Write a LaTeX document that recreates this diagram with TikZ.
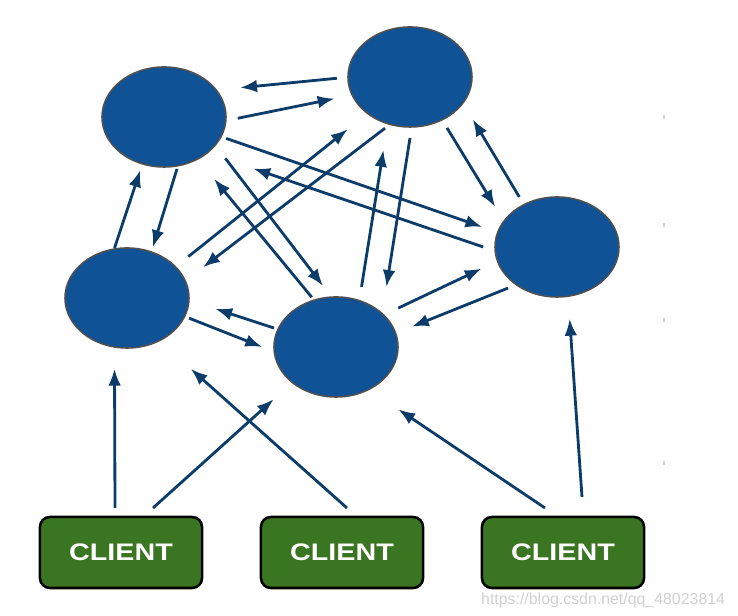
\documentclass[tikz,border=0pt]{standalone}
\usepackage{fontspec}
\setmainfont{Liberation Sans}
\usepackage{tikz}
\usetikzlibrary{shapes.geometric, arrows.meta, positioning, calc}
\definecolor{serverblue}{HTML}{105296}
\definecolor{serveredge}{HTML}{505050}
\definecolor{linkblue}{HTML}{0C3C6A}
\definecolor{clientgreen}{HTML}{3A7621}
\definecolor{markgray}{HTML}{D0D0D0}

\begin{document}
\begin{tikzpicture}[x=0.025cm, y=0.025cm,
            server/.style={ellipse, draw=serveredge, line width=1.1pt, fill=serverblue, minimum width=3.1cm, minimum height=2.5cm, inner sep=0pt, outer sep=0pt},
            client/.style={rectangle, rounded corners=7pt, draw=black, line width=1.8pt, fill=clientgreen, minimum width=4.05cm, minimum height=1.775cm, inner sep=0pt, outer sep=0pt, text=white, font=\fontsize{17}{20}\selectfont\bfseries},
            link/.style={draw=linkblue, line width=2pt, -{Latex[length=12pt, width=9pt]}}
        ]

            \useasboundingbox (0,0) rectangle (738,616);

% Servers
            \node[server] (A) at (164,499) {};
            \node[server] (B) at (410,539) {};
            \node[server] (C) at (127,318) {};
            \node[server] (D) at (336,269) {};
            \node[server] (E) at (557,369) {};

% Clients
            \node[client] (K1) at (121,63.5) {\scalebox{1.2}[1]{CLIENT}};
            \node[client] (K2) at (342,63.5) {\scalebox{1.2}[1]{CLIENT}};
            \node[client] (K3) at (563,63.5) {\scalebox{1.2}[1]{CLIENT}};

% Server links
            \draw[link] ($(B)!1.18!(B.181)$) -- ($(A)!1.36!(A.21)$);
            \draw[link] ($(A)!1.19!(A.359)$) -- ($(B)!1.29!(B.196)$);
            \draw[link] ($(A)!1.09!(A.341)$) -- ($(E)!1.27!(E.165)$);
            \draw[link] ($(E)!1.19!(E.180)$) -- ($(A)!1.77!(A.330)$);
            \draw[link] ($(A)!1.06!(A.284)$) -- ($(C)!1.10!(C.63)$);
            \draw[link] ($(C)!1.02!(C.104)$) -- ($(A)!1.13!(A.246)$);
            \draw[link] ($(A)!1.29!(A.326)$) -- ($(D)!1.24!(D.102)$);
            \draw[link] ($(D)!1.07!(D.116)$) -- ($(A)!1.48!(A.309)$);
            \draw[link] ($(C)!1.29!(C.34)$) -- ($(B)!1.45!(B.220)$);
            \draw[link] ($(B)!1.10!(B.244)$) -- ($(C)!1.37!(C.22)$);
            \draw[link] ($(D)!1.27!(D.67)$) -- ($(B)!1.52!(B.250)$);
            \draw[link] ($(B)!1.22!(B.270)$) -- ($(D)!1.45!(D.50)$);
            \draw[link] ($(B)!1.18!(B.306)$) -- ($(E)!1.28!(E.147)$);
            \draw[link] ($(E)!1.17!(E.127)$) -- ($(B)!1.32!(B.326)$);
            \draw[link] ($(D)!1.07!(D.163)$) -- ($(C)!1.44!(C.353)$);
            \draw[link] ($(C)!1.08!(C.342)$) -- ($(D)!1.19!(D.180)$);
            \draw[link] ($(D)!1.27!(D.32)$) -- ($(E)!1.29!(E.196)$);
            \draw[link] ($(E)!1.14!(E.220)$) -- ($(D)!1.29!(D.15)$);

% Client links
            \draw[link] ($(K1.north)+(-6,9)$) -- ($(C)!1.43!(C.260)$);
            \draw[link] ($(K1.north)+(32,9)$) -- ($(D)!1.45!(D.220)$);
            \draw[link] ($(K2.north)+(5,9)$) -- ($(C)!1.75!(C.312)$);
            \draw[link] ($(K3.north)+(-18,9)$) -- ($(D)!1.60!(D.315)$);
            \draw[link] ($(K3.north)+(19,20)$) -- ($(E)!1.45!(E.280)$);

% Margin marks and watermark
            \foreach \y in {151,294,389,497}
                \draw[markgray, line width=0.8pt] (664,\y) -- ++(0,4);
            \node[anchor=base east, text=markgray, font=\fontsize{11.3}{13}\selectfont] (wm) at (730,11) {https://blog.csdn.net/qq\_48023814};

        \end{tikzpicture}
\end{document}
